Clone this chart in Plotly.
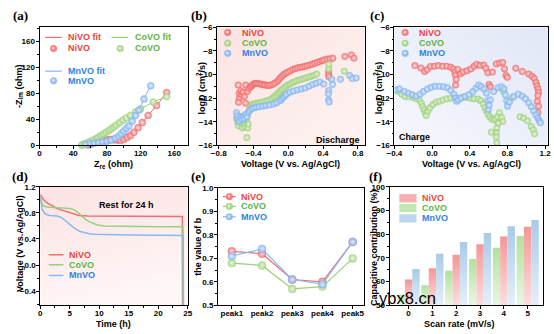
import base64
import plotly.graph_objects as go

W, H = 554, 334

# ---------------- (a) Nyquist plots ----------------
ni_zre = [58, 61, 64, 68, 72, 76, 80, 84, 88, 92, 96, 100, 104, 108, 112, 117, 122, 129, 139, 151]
ni_zim = [0.5, 2, 4, 6, 7.3, 8.2, 8.8, 9, 8.8, 8.2, 7.5, 9, 12, 15, 20, 27, 35, 46, 61, 81]
co_zre = [50, 52, 55, 59, 63, 67, 70, 73, 76, 79, 82, 85, 88, 91, 95, 99, 103, 108, 114, 120, 135, 151]
co_zim = [0.3, 1.5, 3.3, 5.4, 7.7, 10, 12.5, 15, 17.5, 20, 22.5, 25, 28, 31, 34.8, 38.7, 42, 46, 51, 56, 66.5, 75]
mn_zre = [55, 60, 65, 70, 75, 80, 85, 90, 94, 97, 100, 103, 106, 110, 114, 118, 124, 132]
mn_zim = [1.5, 2.5, 3.5, 4.5, 5.5, 6.5, 8, 11, 14, 18, 22, 26, 30, 37, 46, 54, 71, 91.5]

# ---------------- (b) discharge diffusion coefficients ----------------
b_ni_v = [-0.576, -0.565, -0.565, -0.572, -0.546, -0.535, -0.520, -0.505, -0.490, -0.490, -0.471, -0.452,
          -0.434, -0.42, -0.408, -0.39, -0.378, -0.36, -0.340, -0.32, -0.303, -0.28, -0.265, -0.24, -0.221,
          -0.20, -0.172, -0.15, -0.123, -0.105, -0.086, -0.067, -0.048, -0.027, -0.004, 0.025, 0.053, 0.08,
          0.109, 0.137, 0.165, 0.193, 0.221, 0.25, 0.277, 0.305, 0.333, 0.36, 0.389, 0.41, 0.445, 0.48,
          0.513, 0.651, 0.726, 0.756, 0.465, 0.465, 0.468]
b_ni_d = [-10.89, -11.58, -12.05, -12.35, -11.39, -11.72, -11.50, -11.85, -10.89, -12.43, -11.44, -11.17,
          -11.03, -10.95, -10.84, -10.78, -10.75, -10.74, -10.78, -10.80, -10.84, -10.87, -10.89, -10.92, -10.92,
          -10.88, -10.81, -10.70, -10.56, -10.40, -10.23, -10.10, -9.98, -9.88, -9.79, -9.68, -9.57, -9.50,
          -9.43, -9.39, -9.35, -9.30, -9.24, -9.19, -9.13, -9.05, -8.97, -8.90, -8.83, -8.76, -8.69, -8.65,
          -8.61, -8.47, -8.34, -8.61, -9.74, -10.01, -10.20]
b_co_v = [-0.595, -0.583, -0.572, -0.557, -0.542, -0.527, -0.512, -0.497, -0.482, -0.471, -0.467, -0.460,
          -0.475, -0.445, -0.43, -0.415, -0.395, -0.370, -0.345, -0.322, -0.295, -0.265, -0.237, -0.209,
          -0.185, -0.161, -0.142, -0.123, -0.105, -0.086, -0.067, -0.048, -0.026, -0.004, 0.02, 0.045, 0.07,
          0.097, 0.125, 0.154, 0.182, 0.210, 0.238, 0.266, 0.296, 0.326, 0.465, 0.468, 0.645]
b_co_d = [-13.70, -14.05, -14.33, -13.91, -14.19, -14.52, -14.05, -14.41, -13.86, -13.50, -14.52, -14.19,
          -15.34, -12.95, -12.75, -12.54, -12.50, -12.43, -12.42, -12.38, -12.33, -12.27, -12.20, -12.13,
          -12.02, -11.88, -11.75, -11.61, -11.50, -11.36, -11.25, -11.14, -11.00, -10.89, -10.80, -10.70, -10.62,
          -10.53, -10.47, -10.40, -10.33, -10.26, -10.20, -10.15, -10.06, -9.96, -9.52, -9.13, -9.71]
b_mn_v = [-0.595, -0.587, -0.580, -0.565, -0.550, -0.535, -0.520, -0.505, -0.490, -0.475, -0.460, -0.441,
          -0.419, -0.393, -0.363, -0.333, -0.295, -0.258, -0.213, -0.168, -0.131, -0.093, -0.075, -0.056,
          -0.038, -0.019, 0.019, 0.060, 0.105, 0.150, 0.195, 0.240, 0.281, 0.322, 0.363, 0.408, 0.465, 0.462,
          0.465, 0.47, 0.50, 0.51, 0.60, 0.707, 0.737, 0.782]
b_mn_d = [-13.23, -13.50, -13.78, -13.97, -13.58, -13.80, -13.53, -13.72, -13.37, -13.58, -13.20, -13.03,
          -12.90, -12.82, -12.76, -12.71, -12.68, -12.62, -12.57, -12.49, -12.38, -12.21, -12.08, -11.94,
          -11.80, -11.66, -11.50, -11.39, -11.30, -11.22, -11.14, -11.00, -10.84, -10.73, -10.62, -10.81, -11.36, -11.63,
          -12.16, -12.32, -10.40, -10.84, -10.40, -10.07, -10.34, -10.29]

# ---------------- (c) charge diffusion coefficients ----------------
c_ni_v = [-0.183, -0.120, -0.079, -0.051, -0.017, 0.025, 0.066, 0.111, 0.156, 0.198, 0.225, 0.242, 0.249,
          0.256, 0.249, 0.274, 0.301, 0.329, 0.370, 0.412, 0.446, 0.474, 0.509, 0.550, 0.571, 0.592, 0.605,
          0.619, 0.640, 0.681, 0.716, 0.750, 0.768, 0.785, 0.799, 0.889, 0.958, 1.027, 1.061, 1.086, 1.103,
          1.113, 1.124, 1.131, 1.124, 1.117, 1.131, 1.124]
c_ni_d = [-9.24, -9.44, -9.74, -9.57, -9.32, -9.30, -9.24, -9.30, -9.30, -9.38, -9.52, -9.79, -10.07,
          -10.40, -10.89, -9.57, -9.93, -9.79, -9.68, -9.52, -9.30, -9.13, -9.24, -9.19, -9.46, -9.85, -10.84,
          -11.03, -9.79, -9.10, -9.02, -8.97, -9.52, -10.07, -10.23, -9.46, -9.74, -9.96, -10.15, -10.34, -10.67,
          -10.95, -11.22, -11.50, -11.77, -12.27, -12.68, -13.23]
c_co_v = [-0.362, -0.321, -0.286, -0.245, -0.200, -0.165, -0.131, -0.113, -0.100, -0.086, -0.072, -0.062,
          -0.044, -0.024, 0.008, 0.042, 0.077, 0.115, 0.156, 0.198, 0.239, 0.281, 0.322, 0.364, 0.405, 0.446,
          0.488, 0.519, 0.543, 0.560, 0.578, 0.595, 0.612, 0.633, 0.654, 0.674, 0.695, 0.716, 0.737, 0.750,
          0.702, 0.688, 0.681, 0.630, 0.681, 0.688, 0.757, 0.847, 0.934, 0.972, 1.013, 1.054, 1.075, 1.089]
c_co_d = [-11.44, -11.66, -11.85, -11.88, -11.94, -12.05, -12.21, -12.43, -12.71, -12.98, -13.26, -13.47,
          -13.09, -12.82, -12.54, -12.35, -12.27, -12.16, -12.05, -12.00, -11.94, -12.00, -11.94, -11.94, -12.00,
          -12.05, -12.07, -12.21, -12.48, -12.82, -13.09, -13.36, -13.58, -13.75, -13.86, -13.75, -13.58, -13.23,
          -13.64, -13.97, -14.13, -14.52, -14.96, -14.88, -15.29, -15.78, -11.44, -11.99, -13.58, -13.69, -13.91,
          -14.41, -14.68, -15.01]
c_mn_v = [-0.383, -0.348, -0.293, -0.252, -0.210, -0.169, -0.127, -0.093, -0.051, -0.010, 0.032, 0.077,
          0.122, 0.163, 0.198, 0.232, 0.249, 0.260, 0.280, 0.308, 0.350, 0.391, 0.433, 0.467, 0.495, 0.522,
          0.550, 0.578, 0.592, 0.598, 0.605, 0.619, 0.654, 0.702, 0.737, 0.764, 0.778, 0.792, 0.802, 0.820,
          0.868, 0.916, 0.958, 0.992, 1.027, 1.054, 1.079, 1.103, 1.124, 1.138, 1.151]
c_mn_d = [-11.30, -11.22, -11.44, -11.58, -11.72, -11.83, -11.66, -11.44, -11.22, -11.08, -11.00, -11.00,
          -11.03, -11.11, -11.36, -11.66, -11.99, -12.27, -12.16, -11.99, -11.85, -11.72, -11.44, -11.17, -10.89,
          -11.03, -11.22, -11.58, -12.21, -12.95, -12.60, -12.13, -11.44, -11.11, -11.03, -11.22, -11.72, -12.21,
          -12.68, -12.32, -11.85, -11.66, -11.83, -12.05, -12.38, -12.73, -13.09, -13.42, -13.69, -13.91, -14.08]

# ---------------- (d) open-circuit rest ----------------
d_ni_t = [0, 0.3, 0.6, 1.2, 2.0, 2.8, 3.8, 5.0, 6.0, 6.6, 8, 10, 14, 18, 22, 24.1, 24.1, 24.15]
d_ni_v = [1.08, 1.045, 1.0, 0.95, 0.905, 0.872, 0.84, 0.806, 0.775, 0.762, 0.755, 0.753, 0.751, 0.749, 0.747, 0.745, 0.2, -0.8]
d_co_t = [0, 0.15, 0.35, 0.8, 1.5, 2.8, 4.0, 5.0, 5.6, 6.1, 6.6, 7.1, 7.6, 8.2, 8.9, 9.7, 11, 15, 20, 24.2, 24.2, 24.25]
d_co_v = [1.05, 0.98, 0.93, 0.9, 0.888, 0.882, 0.878, 0.87, 0.855, 0.83, 0.79, 0.745, 0.705, 0.67, 0.64, 0.615, 0.6, 0.592, 0.589, 0.587, 0.2, -0.8]
d_mn_t = [0, 0.15, 0.35, 0.75, 1.1, 1.6, 2.8, 3.5, 3.9, 4.5, 5.0, 5.6, 6.1, 6.8, 7.5, 8.3, 9.1, 11, 15, 20, 24.25, 24.25, 24.3]
d_mn_v = [1.03, 0.93, 0.85, 0.797, 0.775, 0.76, 0.753, 0.735, 0.71, 0.665, 0.625, 0.583, 0.547, 0.515, 0.497, 0.482, 0.472, 0.466, 0.462, 0.458, 0.455, 0.2, -0.8]

# ---------------- (e) b values ----------------
peaks = ["peak1", "peak2", "peak3", "peak4", "peak5"]
b_ni = [0.73, 0.72, 0.61, 0.60, 0.77]
b_co = [0.68, 0.67, 0.57, 0.58, 0.70]
b_mn = [0.71, 0.74, 0.61, 0.59, 0.77]

# ---------------- (f) capacitive contribution ----------------
scan_rates = [0, 1, 2, 3, 4, 5]
cap_co = [54.5, 58.5, 64.6, 69.6, 74.3, 79.3]
cap_ni = [60.9, 65.7, 71.4, 75.8, 79.1, 83.2]
cap_mn = [65.4, 71.8, 76.8, 80.6, 83.4, 86.0]
bar_base = 50

# ---------------- styling ----------------
RED, RED_L, RED_T, RED_LN = "#f26a6a", "#fde2e2", "#f0413c", "#f26d6d"
GREEN, GREEN_L, GREEN_T, GREEN_LN = "#9fd27c", "#ecf8e4", "#5cb544", "#97d27a"
BLUE, BLUE_L, BLUE_T, BLUE_LN = "#82b4f0", "#e4effd", "#2e7fe8", "#86b9f2"
SANS = "Liberation Sans"


def px(x):
    return x / W


def py(y):
    return 1 - y / H


def sphere(col, light, size=7):
    return dict(size=size, color=col, opacity=0.85,
                line=dict(width=0.5, color=col),
                gradient=dict(type="radial", color=light))


def axis(x0, x1, rng, dtick, minor, anchor, vertical=False, **kw):
    d = dict(range=rng, dtick=dtick, showline=True, mirror=True, linecolor="black", linewidth=1,
             ticks="outside", ticklen=3, tickwidth=1, tickcolor="black", showgrid=False,
             zeroline=False, anchor=anchor, ticklabelstandoff=-1 if vertical else -3,
             tickfont=dict(family=SANS, size=8, color="black", weight="bold"))
    if vertical:
        d["domain"] = [py(x1), py(x0)]
    else:
        d["domain"] = [px(x0), px(x1)]
    if minor:
        d["minor"] = dict(ticks="outside", ticklen=1.8, dtick=minor, tickcolor="black", tickwidth=1, showgrid=False)
    d.update(kw)
    return d


fig = go.Figure()

# (a)
for zr, zi, col, light, ln in [(ni_zre, ni_zim, RED, RED_L, RED_LN), (co_zre, co_zim, GREEN, GREEN_L, GREEN_LN),
                               (mn_zre, mn_zim, BLUE, BLUE_L, BLUE_LN)]:
    fig.add_trace(go.Scatter(x=zr, y=zi, mode="lines", line=dict(color=ln, width=1),
                             xaxis="x", yaxis="y", showlegend=False, hoverinfo="skip"))
    fig.add_trace(go.Scatter(x=zr, y=zi, mode="markers", marker=sphere(col, light),
                             xaxis="x", yaxis="y", showlegend=False, cliponaxis=False))

# (b), (c)
for xs, ys, col, light, ax in [(b_ni_v, b_ni_d, RED, RED_L, "2"), (b_co_v, b_co_d, GREEN, GREEN_L, "2"),
                               (b_mn_v, b_mn_d, BLUE, BLUE_L, "2"), (c_ni_v, c_ni_d, RED, RED_L, "3"),
                               (c_co_v, c_co_d, GREEN, GREEN_L, "3"), (c_mn_v, c_mn_d, BLUE, BLUE_L, "3")]:
    fig.add_trace(go.Scatter(x=xs, y=ys, mode="markers", marker=sphere(col, light, 6.5),
                             xaxis="x" + ax, yaxis="y" + ax, showlegend=False))

# (d)
for ts, vs, ln in [(d_ni_t, d_ni_v, RED_LN), (d_co_t, d_co_v, GREEN_LN), (d_mn_t, d_mn_v, BLUE_LN)]:
    fig.add_trace(go.Scatter(x=ts, y=vs, mode="lines", line=dict(color=ln, width=1.5),
                             xaxis="x4", yaxis="y4", showlegend=False))

# (e)
for vals, col, light, ln in [(b_ni, RED, RED_L, RED_LN), (b_co, GREEN, GREEN_L, GREEN_LN),
                             (b_mn, BLUE, BLUE_L, BLUE_LN)]:
    fig.add_trace(go.Scatter(x=list(range(len(peaks))), y=vals, mode="lines+markers",
                             line=dict(color=ln, width=1.2), marker=sphere(col, light, 8),
                             xaxis="x5", yaxis="y5", showlegend=False))

# (f) gradient-filled bars
bw = 0.31
BAR_COLS = [(cap_co, "#b0e29a", "#eaf7e4"), (cap_ni, "#f49797", "#fcdfdf"), (cap_mn, "#a8cbe9", "#e5f0fa")]
for k, (vals, top, bot) in enumerate(BAR_COLS):
    for r, v in zip(scan_rates, vals):
        xc = r + (k - 1) * bw
        fig.add_trace(go.Scatter(x=[xc - bw / 2, xc - bw / 2, xc + bw / 2, xc + bw / 2, xc - bw / 2],
                                 y=[bar_base, v, v, bar_base, bar_base], mode="lines", fill="toself",
                                 fillgradient=dict(type="vertical", colorscale=[[0, bot], [1, top]]),
                                 line=dict(width=0), xaxis="x6", yaxis="y6", showlegend=False,
                                 hoverinfo="skip"))

# panel frames (pixel positions of each plotting area)
A = (32.3, 184.5, 24, 145.3)
B = (214, 365.3, 24, 145.3)
C = (395.7, 552.7, 24, 145.3)
D = (33, 184, 188, 309.7)
E = (215, 365, 189, 309.7)
F = (390.7, 548, 188, 309.7)

layout = dict(
    width=W, height=H, margin=dict(l=0, r=0, t=0, b=0), paper_bgcolor="white",
    plot_bgcolor="rgba(0,0,0,0)", showlegend=False,
    xaxis=axis(A[0], A[1], [0, 176.5], 40, 20, "y"),
    yaxis=axis(A[2], A[3], [0, 181], 40, 20, "x", vertical=True),
    xaxis2=axis(B[0], B[1], [-0.82, 0.88], 0.4, 0.2, "y2", tick0=0, tickformat=".1f"),
    yaxis2=axis(B[2], B[3], [-16, -6], 2, 1, "x2", vertical=True),
    xaxis3=axis(C[0], C[1], [-0.4, 1.228], 0.4, 0.2, "y3", tick0=0, tickformat=".1f"),
    yaxis3=axis(C[2], C[3], [-16, -6], 2, 1, "x3", vertical=True),
    xaxis4=axis(D[0], D[1], [0, 25], 5, 2.5, "y4"),
    yaxis4=axis(D[2], D[3], [-0.62, 1.2], 0.4, 0.2, "x4", vertical=True, tick0=0, tickformat=".1f"),
    xaxis5=axis(E[0], E[1], [-0.46, 4.39], 1, None, "y5", tickvals=list(range(len(peaks))), ticktext=peaks),
    yaxis5=axis(E[2], E[3], [0.5, 1.0], 0.1, 0.05, "x5", vertical=True, tickformat=".1f"),
    xaxis6=axis(F[0], F[1], [-0.8, 5.65], 1, None, "y6"),
    yaxis6=axis(F[2], F[3], [bar_base, 100], 10, 5, "x6", vertical=True),
)


def grad_svg(c1, c2, x1, y1, x2, y2):
    svg = ('<svg xmlns="http://www.w3.org/2000/svg" width="100" height="100" viewBox="0 0 100 100" '
           'preserveAspectRatio="none"><defs><linearGradient id="g" x1="%s" y1="%s" x2="%s" y2="%s">'
           '<stop offset="0" stop-color="%s"/><stop offset="1" stop-color="%s"/></linearGradient></defs>'
           '<rect width="100" height="100" fill="url(#g)"/></svg>') % (x1, y1, x2, y2, c1, c2)
    return "data:image/svg+xml;base64," + base64.b64encode(svg.encode()).decode()


def bg(box, src):
    return dict(source=src, xref="paper", yref="paper", x=px(box[0]), y=py(box[2]),
                sizex=px(box[1]) - px(box[0]), sizey=py(box[2]) - py(box[3]),
                xanchor="left", yanchor="top", sizing="stretch", layer="below")


layout["images"] = [
    bg(B, grad_svg("#fbe4e2", "#fdf3f2", 0, 0, 1, 1)),
    bg(C, grad_svg("#f7f8fd", "#e1e7f7", 0, 1, 1, 0)),
    bg(D, grad_svg("#fce2e2", "#fff6f6", 0, 0, 0.3, 1)),
]

ann = []
shapes = []


def text(x, y, s, size=9, color="black", anchor="left", angle=0, family=SANS, weight="bold"):
    ann.append(dict(x=px(x), y=py(y), xref="paper", yref="paper", text=s, showarrow=False,
                    xanchor=anchor, yanchor="middle", textangle=angle,
                    font=dict(family=family, size=size, color=color, weight=weight)))


def key_line(x0, x1, y, col, w=1.2):
    shapes.append(dict(type="line", xref="paper", yref="paper", x0=px(x0), x1=px(x1), y0=py(y), y1=py(y),
                       line=dict(color=col, width=w)))


def key_ball(x, y, col, light, r=3.4):
    shapes.append(dict(type="circle", xref="paper", yref="paper", x0=px(x - r), x1=px(x + r),
                       y0=py(y + r), y1=py(y - r), fillcolor=col, opacity=0.85,
                       line=dict(color=col, width=0.5)))
    shapes.append(dict(type="circle", xref="paper", yref="paper", x0=px(x - r * 0.55), x1=px(x + r * 0.35),
                       y0=py(y + r * 0.35), y1=py(y - r * 0.55), fillcolor=light, opacity=0.8,
                       line=dict(width=0)))


def key_box(x0, x1, y, col):
    shapes.append(dict(type="rect", xref="paper", yref="paper", x0=px(x0), x1=px(x1), y0=py(y + 4.3),
                       y1=py(y - 4.3), fillcolor=col, line=dict(width=0)))


# panel letters
for lab, x, y in [("(a)", 12.5, 12), ("(b)", 196, 12), ("(c)", 378, 12),
                  ("(d)", 12.5, 177.5), ("(e)", 195, 177.5), ("(f)", 376, 177.5)]:
    text(x, y, lab, size=13, anchor="center", family="Liberation Serif")

# axis titles
text((A[0] + A[1]) / 2, 164.5, "Z<sub>re</sub> (ohm)", anchor="center")
text(11.5, 85, "-Z<sub>im</sub> (ohm)", anchor="center", angle=-90)
text((B[0] + B[1]) / 2, 164.5, "Voltage (V vs. Ag/AgCl)", anchor="center")
text(197.5, 86, "logD (cm<sup>2</sup>/s)", anchor="center", angle=-90)
text((C[0] + C[1]) / 2, 164.5, "Voltage (V vs. Ag/AgCl)", anchor="center")
text(378.5, 86, "logD (cm<sup>2</sup>/s)", anchor="center", angle=-90)
text((D[0] + D[1]) / 2, 328.5, "Time (h)", anchor="center")
text(13, 246, "Voltage (V vs.Ag/AgCl)", anchor="center", angle=-90)
text(195, 249, "the value of b", anchor="center", angle=-90)
text(462, 328.5, "Scan rate (mV/s)", anchor="center")
text(375.5, 250, "Capacitive contribution (%)", anchor="center", angle=-90)

# (a) legend
key_line(38, 55, 34.3, RED_LN)
key_ball(46.7, 45.7, RED, RED_L)
text(59, 34.3, "NiVO fit", color=RED_T)
text(59, 45.7, "NiVO", color=RED_T)
key_line(106, 123, 34.3, GREEN_LN)
key_ball(115, 45.7, GREEN, GREEN_L)
text(127.7, 34.3, "CoVO fit", color=GREEN_T)
text(127.7, 45.7, "CoVO", color=GREEN_T)
key_line(38, 55, 69, BLUE_LN)
key_ball(46.7, 79, BLUE, BLUE_L)
text(59, 69, "MnVO fit", color=BLUE_T)
text(59, 79, "MnVO", color=BLUE_T)

# (b), (c) legends
for x0 in (225, 406.7):
    for y, lab, col, light, tc in [(29.3, "NiVO", RED, RED_L, RED_T), (40.3, "CoVO", GREEN, GREEN_L, GREEN_T),
                                   (50.7, "MnVO", BLUE, BLUE_L, BLUE_T)]:
        key_ball(x0, y, col, light)
        text(x0 + 12.5, y, lab, color=tc)
text(363, 140, "Discharge", anchor="right")
text(398, 137, "Charge")

# (d) legend
text(121, 207, "Rest for 24 h", anchor="center")
for y, lab, ln, tc in [(257.7, "NiVO", RED_LN, RED_T), (268, "CoVO", GREEN_LN, GREEN_T),
                       (279, "MnVO", BLUE_LN, BLUE_T)]:
    key_line(41.7, 56.7, y, ln, 1.5)
    text(60, y, lab, color=tc)

# (e) legend
for y, lab, col, light, ln, tc in [(198, "NiVO", RED, RED_L, RED_LN, RED_T),
                                   (208, "CoVO", GREEN, GREEN_L, GREEN_LN, GREEN_T),
                                   (218.7, "MnVO", BLUE, BLUE_L, BLUE_LN, BLUE_T)]:
    key_line(220, 233.3, y, ln)
    key_ball(226.7, y, col, light)
    text(236.7, y, lab, color=tc)

# (f) legend
for y, lab, col, tc in [(199.7, "NiVO", "#f7b0b0", RED_T), (209.7, "CoVO", "#c3e9b2", GREEN_T),
                        (220.3, "MnVO", "#bcd7ee", BLUE_T)]:
    key_box(400.7, 418.3, y, col)
    text(421.7, y, lab, color=tc)

# site watermark
text(409, 302, "ybx8.cn", size=16.5, color="black", anchor="center", family=SANS, weight="normal")

layout["annotations"] = ann
layout["shapes"] = shapes
fig.update_layout(**layout)
fig.write_html("out.html")
